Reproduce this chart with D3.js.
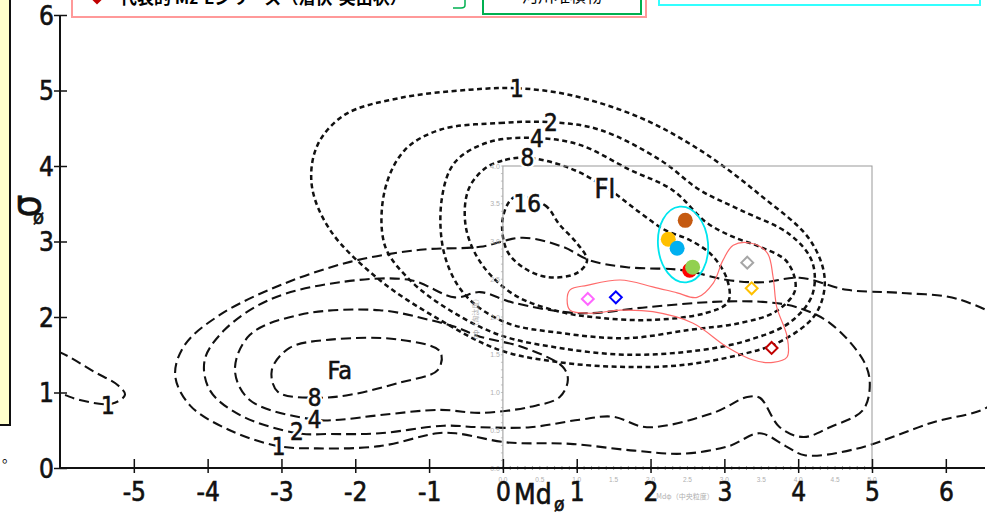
<!DOCTYPE html>
<html lang="ja">
<head>
<meta charset="UTF-8">
<title>Mdφ - σφ</title>
<script src="https://d3js.org/d3.v7.min.js"></script>
<style>
  body { margin: 0; background: #fff; }
  svg { display: block; }
  .scan { font-family: "DejaVu Sans Condensed", "Liberation Sans Narrow", sans-serif; font-stretch: condensed; fill: #111; stroke: #111; stroke-width: 0.6px; }
  .halo { font-family: "DejaVu Sans Condensed", sans-serif; font-stretch: condensed; fill: #fff; stroke: #fff; stroke-width: 5px; stroke-linejoin: round; }
</style>
</head>
<body>
<script>
// 目盛り
const xTicks = [-5, -4, -3, -2, -1, 0, 1, 2, 3, 4, 5, 6];
const yTicks = [0, 1, 2, 3, 4, 5, 6];
const innerTicks = [0, 0.5, 1, 1.5, 2, 2.5, 3, 3.5, 4, 4.5, 5];
const innerYTicks = [0, 0.5, 1, 1.5, 2, 2.5, 3, 3.5, 4];

// Fl 等値線 (Mdφ, σφ)
const fl1 = [[-0.45,5.01],[0.19,5.03],[0.91,4.94],[1.86,4.64],[2.67,4.21],[3.48,3.62],[4.16,3.02],[4.36,2.49],[4.23,2.03],[3.75,1.67],[3.21,1.50],[2.40,1.36],[1.59,1.34],[0.77,1.40],[-0.04,1.56],[-0.85,1.96],[-1.67,2.49],[-2.34,3.15],[-2.59,3.75],[-2.51,4.28],[-2.14,4.68],[-1.40,4.90]];
const fl2 = [[-0.85,4.48],[-0.04,4.57],[0.65,4.58],[1.31,4.48],[2.13,4.08],[2.67,3.68],[3.21,3.42],[3.89,3.09],[4.19,2.73],[4.19,2.29],[3.89,1.93],[3.35,1.70],[2.67,1.56],[1.68,1.50],[0.77,1.59],[-0.04,1.76],[-0.72,2.09],[-1.26,2.49],[-1.60,2.95],[-1.60,3.68],[-1.33,4.21]];
const fl4 = [[-0.18,4.32],[0.46,4.37],[1.04,4.28],[1.72,3.95],[2.30,3.68],[2.76,3.25],[3.12,3.06],[3.48,2.93],[3.85,2.73],[3.96,2.36],[3.69,2.07],[3.21,1.92],[2.53,1.83],[1.68,1.72],[0.77,1.79],[0.03,1.93],[-0.51,2.29],[-0.79,2.82],[-0.83,3.55],[-0.65,4.05]];
const fl8 = [[-0.24,3.97],[0.03,4.08],[0.33,4.11],[0.91,3.97],[1.45,3.68],[1.86,3.38],[2.20,3.15],[2.53,3.02],[2.83,2.82],[3.04,2.49],[3.05,2.20],[2.74,2.05],[1.99,1.96],[1.31,1.99],[0.77,2.07],[0.16,2.29],[-0.28,2.69],[-0.50,3.18],[-0.47,3.68]];
const fl16 = [[0.16,3.59],[0.57,3.48],[0.77,3.22],[1.00,2.98],[1.14,2.75],[1.00,2.58],[0.60,2.53],[0.27,2.66],[0.05,2.89],[0.0,3.32]];

// Fa 等値線
const fa1 = [[-2.52,0.26],[-3.04,0.29],[-3.70,0.50],[-4.24,0.83],[-4.44,1.23],[-4.31,1.63],[-3.83,2.03],[-3.02,2.42],[-2.07,2.73],[-1.12,2.89],[-0.31,2.93],[0.27,3.05],[0.81,2.93],[1.18,2.75],[1.68,2.66],[2.44,2.62],[3.04,2.49],[3.52,2.46],[4.02,2.52],[4.66,2.36],[5.38,2.32],[6.19,2.23],[6.80,1.89],[6.87,1.23],[6.60,0.83],[5.81,0.60],[4.77,0.25],[4.09,0.17],[3.83,0.29],[3.48,0.46],[3.06,0.29],[2.45,0.19],[1.78,0.23],[0.91,0.32],[0.05,0.34],[-0.64,0.46],[-0.89,0.46],[-1.67,0.29]];
const fa2 = [[-2.34,0.45],[-2.78,0.46],[-3.56,0.70],[-3.97,1.03],[-4.04,1.43],[-3.77,1.83],[-3.16,2.23],[-2.21,2.46],[-1.26,2.49],[-0.65,2.26],[-0.31,2.33],[0.14,2.19],[1.04,2.05],[1.95,2.13],[2.85,2.20],[3.52,2.20],[3.98,2.13],[4.43,1.92],[4.88,1.43],[4.97,1.13],[4.88,0.77],[4.43,0.54],[4.07,0.41],[3.75,0.54],[3.48,0.93],[3.31,0.94],[2.85,0.73],[1.95,0.54],[1.49,0.68],[1.04,0.64],[0.37,0.54],[-0.31,0.54],[-0.80,0.56],[-1.67,0.46]];
const fa4 = [[-2.21,0.64],[-2.55,0.64],[-3.43,0.90],[-3.63,1.30],[-3.43,1.76],[-2.75,2.03],[-1.67,2.09],[-0.99,1.96],[-0.65,1.87],[-0.31,1.74],[0.27,1.60],[0.81,1.34],[0.88,1.17],[0.77,0.94],[0.37,0.81],[-0.31,0.73],[-0.85,0.77],[-1.67,0.70]];
const fa8 = [[-2.55,0.93],[-3.05,1.01],[-3.13,1.30],[-2.89,1.59],[-2.34,1.70],[-1.40,1.70],[-0.85,1.54],[-0.88,1.30],[-1.40,1.13],[-2.07,0.97]];
const faLeft = [[-6.41,1.63],[-6.02,1.54],[-5.53,1.27],[-5.22,1.10],[-5.12,0.97],[-5.30,0.85],[-5.73,0.90],[-6.02,0.99],[-6.41,1.03]];

// 等値線ラベル
const flLabels = [["1",0.19,5.03],["2",0.65,4.58],["4",0.46,4.37],["8",0.33,4.11],["16",0.33,3.51]];
const faLabels = [["8",-2.55,0.93],["4",-2.55,0.64],["2",-2.79,0.48],["1",-3.04,0.29],["1",-5.35,0.83]];

// 試料
const circleX = [2.47, 2.24, 2.36, 2.53, 2.57];
const circleY = [3.28, 3.03, 2.91, 2.62, 2.66];
const circleColor = ["#C55A11", "#FFC000", "#00B0F0", "#FF0000", "#92D050"];
const diamondX = [1.15, 1.53, 3.31, 3.37, 3.64];
const diamondY = [2.24, 2.26, 2.72, 2.38, 1.59];
const diamondColor = ["#FF66FF", "#0000FF", "#A6A6A6", "#FFC000", "#C00000"];
const redGroup = [[0.91,2.36],[1.14,2.42],[1.59,2.49],[2.03,2.40],[2.36,2.32],[2.63,2.26],[2.85,2.45],[2.98,2.75],[3.12,2.95],[3.35,2.98],[3.58,2.85],[3.66,2.53],[3.71,2.13],[3.85,1.74],[3.85,1.47],[3.66,1.40],[3.39,1.43],[3.04,1.60],[2.57,1.92],[2.03,2.07],[1.59,2.09],[1.18,2.05],[0.91,2.09],[0.87,2.23]];

const width = 987, height = 515;
const svg = d3.select("body").append("svg").attr("width", width).attr("height", height);

const x = d3.scaleLinear().domain([-6, 5]).range([60, 872]);
const y = d3.scaleLinear().domain([0, 6]).range([468, 15]);

svg.append("clipPath").attr("id", "plot")
  .append("rect").attr("x", x(-6)).attr("y", 0).attr("width", width - x(-6)).attr("height", y(0));

const line = d3.line().x(d => x(d[0])).y(d => y(d[1])).curve(d3.curveCatmullRomClosed.alpha(0.5));
const contours = svg.append("g").attr("clip-path", "url(#plot)").attr("fill", "none").attr("stroke", "#111");

// Fa (長破線)
[fa1, fa2, fa4, fa8, faLeft].forEach(c => {
  contours.append("path").attr("d", line(c)).attr("stroke-width", 2.1).attr("stroke-dasharray", "10,5");
});
// Fl (短破線)
[fl1, fl2, fl4, fl8, fl16].forEach(c => {
  contours.append("path").attr("d", line(c)).attr("stroke-width", 2.5).attr("stroke-dasharray", "5,3.5");
});

// 重ねたグラフの枠と目盛り(灰色)
const inner = svg.append("g");
inner.append("rect").attr("x", x(0)).attr("y", y(4)).attr("width", x(5) - x(0)).attr("height", y(0) - y(4))
  .attr("fill", "none").attr("stroke", "#999").attr("stroke-width", 1);
inner.selectAll(".iy").data(innerYTicks).enter().append("text")
  .attr("x", x(0) - 3).attr("y", d => y(d) + 2.5).attr("text-anchor", "end")
  .attr("font-size", 7).attr("font-family", "Liberation Sans, sans-serif").attr("fill", "#b0b0b0")
  .text(d => d.toFixed(1));
inner.selectAll(".ix").data(innerTicks).enter().append("text")
  .attr("x", d => x(d)).attr("y", y(0) + 14).attr("text-anchor", "middle")
  .attr("font-size", 6.5).attr("font-family", "Liberation Sans, sans-serif").attr("fill", "#b0b0b0")
  .text(d => d.toFixed(1));
inner.selectAll(".im").data(d3.range(0, 5.01, 0.1)).enter().append("line")
  .attr("x1", d => x(d)).attr("x2", d => x(d)).attr("y1", y(0) - 2).attr("y2", y(0) + 2)
  .attr("stroke", "#777").attr("stroke-width", 0.7);
inner.selectAll(".imy").data(d3.range(0, 4.01, 0.1)).enter().append("line")
  .attr("x1", x(0) - 2).attr("x2", x(0)).attr("y1", d => y(d)).attr("y2", d => y(d))
  .attr("stroke", "#aaa").attr("stroke-width", 0.7);
inner.append("text").attr("x", 685).attr("y", 499).attr("text-anchor", "middle")
  .attr("font-size", 7).attr("font-family", "Noto Sans CJK JP, sans-serif").attr("fill", "#b0b0b0")
  .text("Mdφ（中央粒度）");
inner.append("text").attr("transform", `translate(478,${y(2.0)}) rotate(-90)`).attr("text-anchor", "middle")
  .attr("font-size", 7).attr("font-family", "Noto Sans CJK JP, sans-serif").attr("fill", "#b0b0b0")
  .text("σφ（淘汰度）");

// 外側の軸
const gx = svg.append("g").attr("transform", `translate(0,${y(0)})`)
  .call(d3.axisBottom(x).tickValues(xTicks).tickSize(0).tickFormat(d => String(d)));
gx.select(".domain").remove();
gx.selectAll(".tick line").attr("y1", -9).attr("y2", 5).attr("stroke", "#111").attr("stroke-width", 1.5);
gx.selectAll(".tick text").attr("class", "scan").attr("y", 13).attr("dy", "0.75em").attr("font-size", 26);
svg.append("line").attr("x1", x(-6)).attr("x2", 985).attr("y1", y(0)).attr("y2", y(0))
  .attr("stroke", "#111").attr("stroke-width", 2);

const gy = svg.append("g").attr("transform", `translate(${x(-6)},0)`)
  .call(d3.axisLeft(y).tickValues(yTicks).tickSize(0).tickFormat(d => String(d)));
gy.select(".domain").remove();
gy.selectAll(".tick line").attr("x1", -6).attr("x2", 7).attr("stroke", "#111").attr("stroke-width", 1.5);
gy.selectAll(".tick text").attr("class", "scan").attr("x", -6).attr("dy", "0.36em").attr("font-size", 26);
svg.append("line").attr("x1", x(-6)).attr("x2", x(-6)).attr("y1", y(0)).attr("y2", y(6))
  .attr("stroke", "#111").attr("stroke-width", 2);

// 軸名
svg.append("text").attr("class", "scan").attr("transform", "translate(40,206) rotate(-90)")
  .attr("text-anchor", "middle").attr("font-size", 40).text("σ");
svg.append("text").attr("class", "scan").attr("x", 33).attr("y", 224).attr("font-size", 20).text("ø");
svg.append("text").attr("class", "scan").attr("x", 514).attr("y", 504).attr("font-size", 28).text("Md");
svg.append("text").attr("class", "scan").attr("x", 554).attr("y", 511).attr("font-size", 19).text("ø");

// 等値線ラベル
const labs = svg.append("g").attr("text-anchor", "middle");
const allLabels = flLabels.concat(faLabels).map(l => [l[0], l[1], l[2], 24])
  .concat([["Fl", 1.38, 3.71, 27], ["Fa", -2.21, 1.30, 25]]);
allLabels.forEach(l => {
  labs.append("text").attr("class", "halo").attr("x", x(l[1])).attr("y", y(l[2])).attr("dy", "0.36em")
    .attr("font-size", l[3]).text(l[0]);
});
allLabels.forEach(l => {
  labs.append("text").attr("class", "scan").attr("x", x(l[1])).attr("y", y(l[2])).attr("dy", "0.36em")
    .attr("font-size", l[3]).text(l[0]);
});

// 試料プロット
svg.append("path").attr("d", line(redGroup)).attr("fill", "none").attr("stroke", "#FF6B6B").attr("stroke-width", 1.2);
svg.append("ellipse").attr("cx", x(2.44)).attr("cy", y(2.96)).attr("rx", 25).attr("ry", 38)
  .attr("transform", `rotate(-5,${x(2.44)},${y(2.96)})`)
  .attr("fill", "none").attr("stroke", "#00E5EE").attr("stroke-width", 1.8);
svg.selectAll(".c").data(circleX).enter().append("circle")
  .attr("cx", (d, i) => x(d)).attr("cy", (d, i) => y(circleY[i])).attr("r", 7.5)
  .attr("fill", (d, i) => circleColor[i]);
svg.selectAll(".d").data(diamondX).enter().append("path")
  .attr("d", d3.symbol(d3.symbolDiamond2, 90))
  .attr("transform", (d, i) => `translate(${x(d)},${y(diamondY[i])})`)
  .attr("fill", "#fff").attr("stroke", (d, i) => diamondColor[i]).attr("stroke-width", 2);

// 上部の凡例枠(見切れ)
svg.append("rect").attr("x", 72).attr("y", -30).attr("width", 574).attr("height", 47)
  .attr("fill", "#fff").attr("stroke", "#FF9999").attr("stroke-width", 2);
svg.append("path").attr("d", d3.symbol(d3.symbolDiamond2, 110)).attr("transform", "translate(97,-2)").attr("fill", "#C00000");
svg.append("text").attr("x", 120).attr("y", 4).attr("font-size", 17).attr("font-weight", "bold")
  .attr("font-family", "Noto Sans CJK JP, sans-serif").text("代表的 Mz-Eシリーズ（潜伏-突出状）");
svg.append("path").attr("d", "M465,0 L465,5 Q465,8 461,8 L453,8").attr("fill", "none").attr("stroke", "#00B050").attr("stroke-width", 1.5);
svg.append("rect").attr("x", 483).attr("y", -30).attr("width", 158).attr("height", 44)
  .attr("fill", "#fff").attr("stroke", "#00B050").attr("stroke-width", 2);
svg.append("text").attr("x", 562).attr("y", 2).attr("text-anchor", "middle").attr("font-size", 16)
  .attr("font-family", "Noto Sans CJK JP, sans-serif").text("河川堆積物");
svg.append("rect").attr("x", 659).attr("y", -30).attr("width", 321).attr("height", 35)
  .attr("fill", "#fff").attr("stroke", "#33FFFF").attr("stroke-width", 2);
svg.append("rect").attr("x", -10).attr("y", -10).attr("width", 20).attr("height", 435)
  .attr("fill", "#FFFFCC").attr("stroke", "#111").attr("stroke-width", 2);
svg.append("text").attr("x", 2).attr("y", 462).attr("font-size", 14).attr("font-family", "Noto Sans CJK JP, sans-serif").text("。");
</script>
</body>
</html>
